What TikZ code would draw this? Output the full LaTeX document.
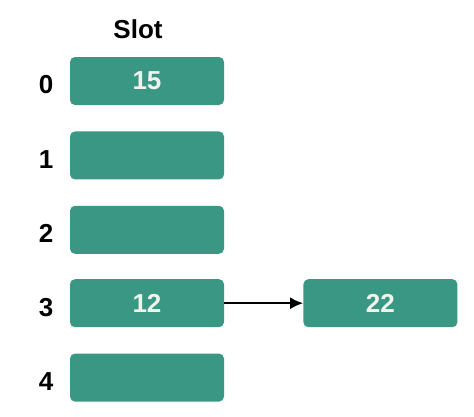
\documentclass[tikz,border=0pt]{standalone}
\usepackage{fontspec}
\setmainfont{Liberation Sans}
\usepackage{xcolor}
\definecolor{slotgreen}{HTML}{3A9784}
\definecolor{slottext}{HTML}{F2F2EC}
\usepackage{tikz}
\usetikzlibrary{arrows.meta, positioning}

\begin{document}
\begin{tikzpicture}[x=1pt, y=-1pt,
    slotbox/.style={fill=slotgreen, rounded corners=5pt, minimum width=154pt,
                    minimum height=48pt, inner sep=0pt,
                    text=slottext, font=\fontsize{26}{30}\selectfont\bfseries},
    idx/.style={font=\fontsize{26}{30}\selectfont\bfseries, yshift=-4pt}]
    \useasboundingbox (0,0) rectangle (474,416);

    \node[slotbox] (s0) at (147,81) {15};
    \node[slotbox, below=26pt of s0] (s1) {};
    \node[slotbox, below=26pt of s1] (s2) {};
    \node[slotbox, below=25pt of s2] (s3) {12};
    \node[slotbox, below=26pt of s3] (s4) {};
    \node[slotbox, right=79pt of s3] (n22) {22};

    \node[font=\fontsize{26}{30}\selectfont\bfseries] (title) at (138,29) {Slot};
    \foreach \i in {0,...,4}
      \node[idx, left=13pt of s\i] (l\i) {\i};

    \draw[line width=2.2pt, -{Latex[length=13pt, width=12pt]}] (s3) -- (n22);
\end{tikzpicture}
\end{document}
